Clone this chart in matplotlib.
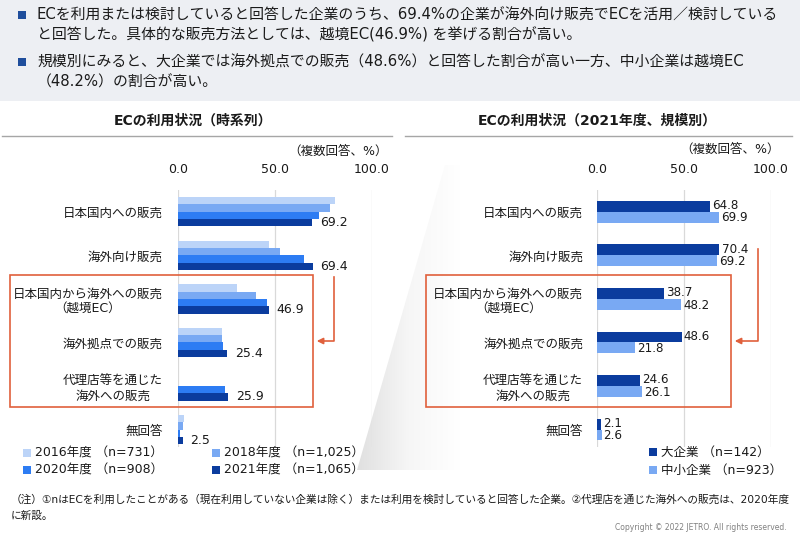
import numpy as np
import matplotlib
matplotlib.use("Agg")
import matplotlib.pyplot as plt
from matplotlib.patches import Rectangle, Polygon
from matplotlib.colors import LinearSegmentedColormap

plt.rcParams['font.family'] = ['DejaVu Sans', 'Noto Sans CJK JP']

# ── DATA ────────────────────────────────────────────────────────────────────
categories = ["日本国内への販売", "海外向け販売",
              "日本国内から海外への販売\n（越境EC）", "海外拠点での販売",
              "代理店等を通じた\n海外への販売", "無回答"]
year_labels = ["2016年度 （n=731）", "2018年度 （n=1,025）",
               "2020年度 （n=908）", "2021年度 （n=1,065）"]
v2016 = [81.0, 47.1, 30.6, 22.7, np.nan, 3.0]
v2018 = [78.4, 52.7, 40.3, 22.7, np.nan, 2.5]
v2020 = [72.9, 64.8, 45.7, 23.2, 24.4, 1.2]
v2021 = [69.2, 69.4, 46.9, 25.4, 25.9, 2.5]
size_labels = ["大企業 （n=142）", "中小企業 （n=923）"]
large = [64.8, 70.4, 38.7, 48.6, 24.6, 2.1]
sme = [69.9, 69.2, 48.2, 21.8, 26.1, 2.6]
xticks = [0, 50, 100]
xticklabels = ["0.0", "50.0", "100.0"]

year_colors = ["#bcd4f8", "#79a9f3", "#2d7cf3", "#0b3c9e"]
size_colors = ["#0b3c9e", "#79a9f3"]
RED = "#e0603c"
GRID = "#d9d9d9"
TXT = "#1a1a1a"

W, H = 800, 535
fig = plt.figure(figsize=(W / 100, H / 100), dpi=100, facecolor="white")


def px_axes(x0, y0, x1, y1, z):
    return fig.add_axes([x0 / W, 1 - y1 / H, (x1 - x0) / W, (y1 - y0) / H], zorder=z)


# ── background layer ───────────────────────────────────────────────────────
bg = px_axes(0, 0, W, H, 0)
bg.add_patch(Rectangle((0, 0), 800, 101, color="#edeff3", lw=0))
grad = np.linspace(0, 1, 200).reshape(1, -1)
cmap_g = LinearSegmentedColormap.from_list("g", ["#e0e0e0", "#f6f6f6", "#ffffff"])
im = bg.imshow(grad, extent=(357, 460, 470, 165), cmap=cmap_g, aspect="auto")
wedge = Polygon([(445, 165), (357, 470), (460, 470), (460, 165)], closed=True,
                transform=bg.transData, fc="none", ec="none")
bg.add_patch(wedge)
im.set_clip_path(wedge)
bg.set_xlim(0, W)
bg.set_ylim(H, 0)
bg.axis("off")

# ── bar charts ─────────────────────────────────────────────────────────────
ypos = np.arange(len(categories))


def style_ax(ax, label_pad):
    ax.set_facecolor("none")
    ax.set_xlim(0, 100)
    ax.set_ylim(5.4, -0.5)
    ax.xaxis.tick_top()
    ax.set_xticks(xticks)
    ax.set_xticklabels(xticklabels, fontsize=9, color=TXT)
    ax.set_yticks(ypos)
    ax.set_yticklabels(categories, fontsize=9, color=TXT)
    for t in ax.get_yticklabels():
        t.set_multialignment("center")
    ax.tick_params(axis="x", length=0, pad=10)
    ax.tick_params(axis="y", length=0, pad=label_pad)
    ax.xaxis.grid(True, color=GRID, lw=0.9)
    ax.set_axisbelow(True)
    for sp in ax.spines.values():
        sp.set_visible(False)


axL = px_axes(178, 190, 372, 447, 2)
style_ax(axL, 11)
bh = 0.168
for k, (vals, col) in enumerate(zip([v2016, v2018, v2020, v2021], year_colors)):
    axL.barh(ypos + (k - 1.5) * bh, vals, height=bh, color=col, lw=0)
for y, v in zip(ypos, v2021):
    axL.annotate(f"{v:.1f}", (v, y + 1.5 * bh), xytext=(5.5, 0),
                 textcoords="offset points", va="center", ha="left",
                 fontsize=9, color=TXT)

axR = px_axes(597, 190, 771, 447, 2)
style_ax(axR, 10)
bh2 = 0.25
for k, (vals, col) in enumerate(zip([large, sme], size_colors)):
    axR.barh(ypos + (k - 0.5) * bh2, vals, height=bh2, color=col, lw=0)
    for y, v in zip(ypos, vals):
        axR.annotate(f"{v:.1f}", (v, y + (k - 0.5) * bh2), xytext=(1.5, (0.5 - k) * 1.0),
                     textcoords="offset points", va="center", ha="left",
                     fontsize=8.6, color=TXT)

# ── foreground: texts, boxes, arrows, legends ──────────────────────────────
fg = px_axes(0, 0, W, H, 5)
fg.set_xlim(0, W)
fg.set_ylim(H, 0)
fg.axis("off")

bullets = [
    (15, "ECを利用または検討していると回答した企業のうち、69.4%の企業が海外向け販売でECを活用／検討している", True),
    (35, "と回答した。具体的な販売方法としては、越境EC(46.9%) を挙げる割合が高い。", False),
    (62, "規模別にみると、大企業では海外拠点での販売（48.6%）と回答した割合が高い一方、中小企業は越境EC", True),
    (82, "（48.2%）の割合が高い。", False),
]
for y, s, mark in bullets:
    if mark:
        fg.add_patch(Rectangle((18, y - 4), 7.5, 7.5, color="#1f4e9c", lw=0))
    fg.text(37, y, s, fontsize=10.7, va="center", ha="left", color=TXT)

fg.text(193, 121, "ECの利用状況（時系列）", fontsize=10, fontweight="bold",
        ha="center", va="center", color=TXT)
fg.text(597, 121, "ECの利用状況（2021年度、規模別）", fontsize=10, fontweight="bold",
        ha="center", va="center", color=TXT)
fg.plot([2, 392], [136, 136], color="#a6a6a6", lw=1)
fg.plot([405, 792], [136, 136], color="#a6a6a6", lw=1)
fg.text(388, 151, "（複数回答、%）", fontsize=9, ha="right", va="center", color=TXT)
fg.text(780, 149, "（複数回答、%）", fontsize=9, ha="right", va="center", color=TXT)

fg.add_patch(Rectangle((10, 275), 303, 132, fill=False, ec=RED, lw=1.2))
fg.add_patch(Rectangle((426, 275), 305, 132, fill=False, ec=RED, lw=1.2))
fg.plot([334, 334, 322], [277, 341, 341], color=RED, lw=1.2)
fg.annotate("", xy=(314, 341), xytext=(324, 341),
            arrowprops=dict(arrowstyle="-|>", color=RED, lw=1.2, mutation_scale=9))
fg.plot([758, 758, 742], [249, 341, 341], color=RED, lw=1.2)
fg.annotate("", xy=(732, 341), xytext=(744, 341),
            arrowprops=dict(arrowstyle="-|>", color=RED, lw=1.2, mutation_scale=9))


def legend_item(x, y, col, label):
    fg.add_patch(Rectangle((x, y - 4), 8, 8, color=col, lw=0))
    fg.text(x + 12, y, label, fontsize=9, va="center", ha="left", color=TXT)


leg_pos = [(23, 453), (212, 453), (23, 470), (212, 470)]
for (x, y), col, lab in zip(leg_pos, year_colors, year_labels):
    legend_item(x, y, col, lab)
for (x, y), col, lab in zip([(649, 452), (649, 470)], size_colors, size_labels):
    legend_item(x, y, col, lab)

fg.text(11, 500, "（注）①nはECを利用したことがある（現在利用していない企業は除く）または利用を検討していると回答した企業。②代理店を通じた海外への販売は、2020年度",
        fontsize=7.7, ha="left", va="center", color=TXT)
fg.text(11, 516, "に新設。", fontsize=7.7, ha="left", va="center", color=TXT)
fg.text(787, 527, "Copyright © 2022 JETRO. All rights reserved.", fontsize=5.5,
        ha="right", va="center", color="#808080")

fig.savefig("out.png", dpi=100, facecolor="white")
